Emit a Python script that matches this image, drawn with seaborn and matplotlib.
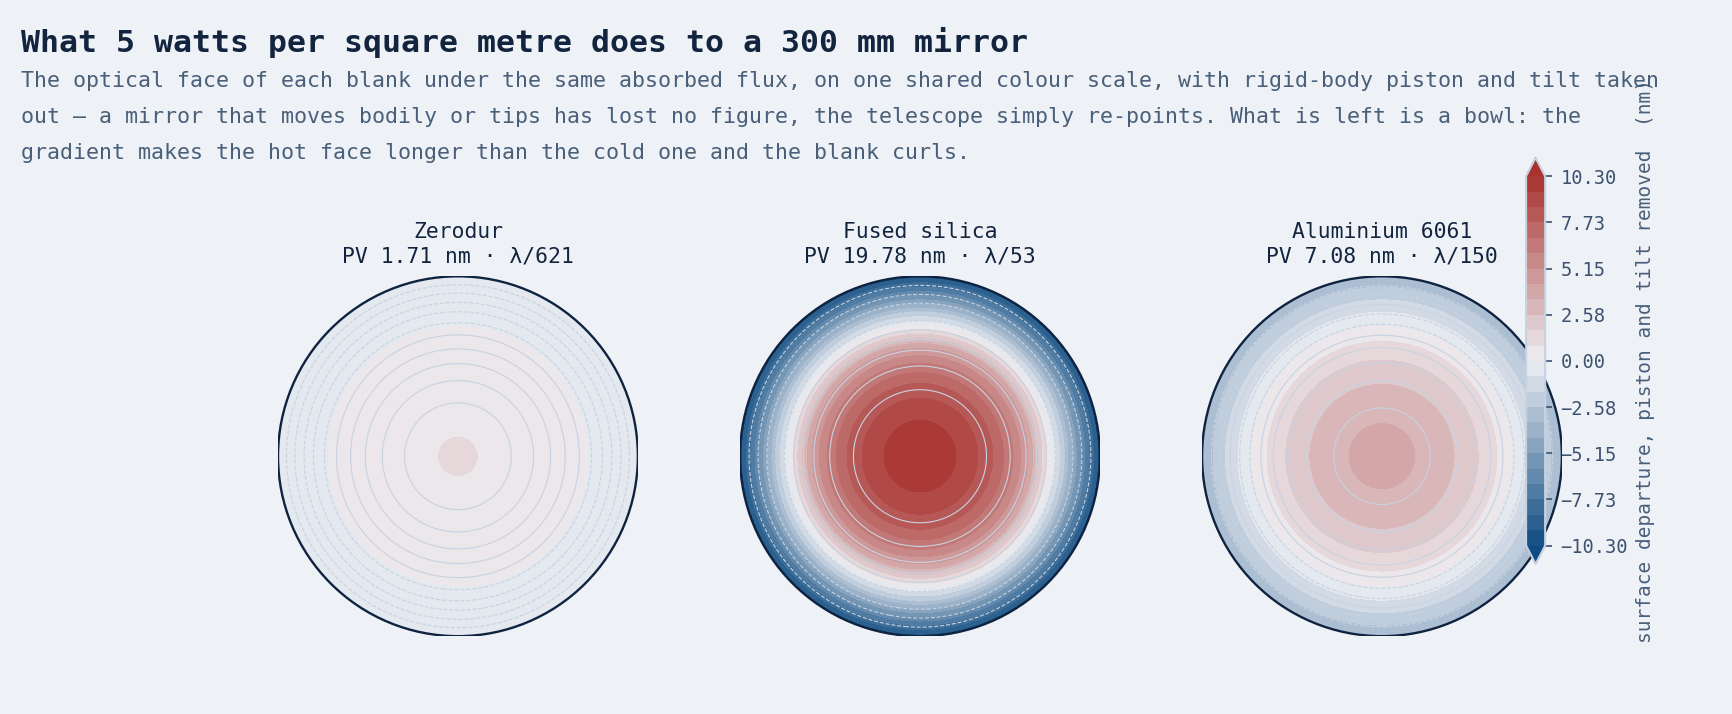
import numpy as np
import seaborn as sns
import matplotlib.pyplot as plt
from matplotlib.patches import Circle
from matplotlib.ticker import FuncFormatter

# radial profile of each blank (nm, piston + tilt removed)
radius = [0.0, 0.1, 0.2, 0.3, 0.4, 0.5, 0.6, 0.7, 0.8, 0.9, 1.0]
zerodur = [0.878, 0.862, 0.81, 0.72, 0.60, 0.44, 0.25, 0.05, -0.20, -0.50, -0.832]
fused_silica = [9.90, 9.78, 9.45, 8.80, 7.80, 6.35, 4.30, 1.00, -2.60, -6.30, -9.88]
aluminium = [3.75, 3.66, 3.38, 2.98, 2.58, 1.98, 1.22, 0.27, -0.86, -2.10, -3.33]

materials = ["Zerodur", "Fused silica", "Aluminium 6061"]
pv_nm = [1.71, 19.78, 7.08]
wave_frac = [621, 53, 150]
profiles = [zerodur, fused_silica, aluminium]

scale_max = 10.30
n_bands = 24

BG = "#eef2f7"
INK = "#13243f"
MUTED = "#4a5f7a"

sns.set_theme(style="white", rc={"figure.facecolor": BG, "axes.facecolor": BG})
plt.rcParams["font.family"] = ["DejaVu Sans Mono", "DejaVu Sans"]

cmap = sns.blend_palette(["#0f4c81", "#eeeff4", "#a8322d"], as_cmap=True)
levels = np.linspace(-scale_max, scale_max, n_bands + 1)

fig = plt.figure(figsize=(17.33, 7.14), dpi=100)

fig.text(0.012, 0.962, "What 5 watts per square metre does to a 300 mm mirror",
         fontsize=22.65, fontweight="bold", color=INK, va="top")
fig.text(0.012, 0.900,
         "The optical face of each blank under the same absorbed flux, on one shared colour scale, with rigid-body piston and tilt taken\n"
         "out \u2014 a mirror that moves bodily or tips has lost no figure, the telescope simply re-points. What is left is a bowl: the\n"
         "gradient makes the hot face longer than the cold one and the blank curls.",
         fontsize=15.6, color=MUTED, va="top", linespacing=2.0)

g = np.linspace(-1.05, 1.05, 101)
X, Y = np.meshgrid(g, g)
R = np.hypot(X, Y)

lefts = [0.1604, 0.427, 0.6936]
cs = None
for i, name in enumerate(materials):
    ax = fig.add_axes([lefts[i], 0.109, 0.2077, 0.504])
    ax.set_facecolor(BG)
    Z = np.interp(R, radius, profiles[i])
    disk = Circle((0, 0), 1.0, transform=ax.transData, facecolor="none")
    cs = ax.contourf(X, Y, Z, levels=levels, cmap=cmap, extend="both")
    cs.set_clip_path(disk)
    lines = np.linspace(min(profiles[i]), max(profiles[i]), 12)[1:-1]
    cl = ax.contour(X, Y, Z, levels=lines, colors="#c7d3e1", linewidths=0.8)
    cl.set_clip_path(disk)
    ax.add_patch(Circle((0, 0), 1.0, facecolor="none", edgecolor="#0f2340", linewidth=1.7))
    ax.set_xlim(-1, 1)
    ax.set_ylim(-1, 1)
    ax.set_aspect("equal")
    ax.axis("off")
    ax.set_title(f"{name}\nPV {pv_nm[i]:.2f} nm \u00b7 \u03bb/{wave_frac[i]}",
                 fontsize=15.4, color=INK, pad=10, linespacing=1.27)


def tick_fmt(v, pos):
    s = f"{abs(v) + 1e-9:.2f}"
    return ("\u2212" + s) if v < -1e-9 else s


cax = fig.add_axes([0.8806, 0.210, 0.011, 0.569])
cb = fig.colorbar(cs, cax=cax, ticks=levels[::3], format=FuncFormatter(tick_fmt))
cb.outline.set_edgecolor("#c5d2e2")
cb.outline.set_linewidth(1.5)
cax.tick_params(labelsize=13.5, colors="#3d5170", length=5, width=1.2, pad=6,
                labelcolor="#3d5170")
cb.set_label("surface departure, piston and tilt removed  (nm)",
             fontsize=14, color=MUTED, labelpad=6)

fig.savefig("out.png", dpi=100, facecolor=BG)
